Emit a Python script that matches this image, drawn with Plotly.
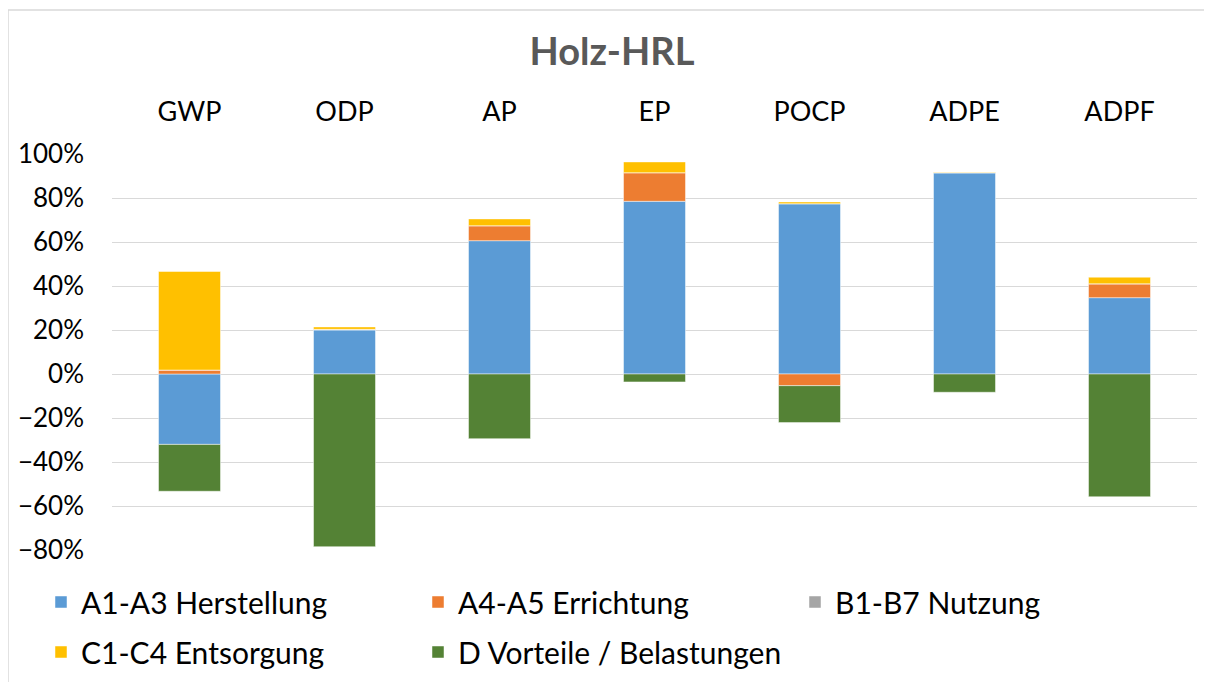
import plotly.graph_objects as go

categories = ['GWP', 'ODP', 'AP', 'EP', 'POCP', 'ADPE', 'ADPF']

# shares per life-cycle module (fraction of total)
a1_a3 = [-0.320, 0.200, 0.606, 0.785, 0.774, 0.915, 0.347]
a4_a5 = [0.018, 0.003, 0.068, 0.130, -0.053, 0.000, 0.063]
b1_b7 = [0.0, 0.0, 0.0, 0.0, 0.0, 0.0, 0.0]
c1_c4 = [0.448, 0.011, 0.031, 0.049, 0.008, 0.002, 0.030]
d_mod = [-0.213, -0.785, -0.294, -0.036, -0.168, -0.083, -0.558]

series = [
    ('A1-A3 Herstellung', a1_a3, '#5b9bd5', 'legend'),
    ('A4-A5 Errichtung', a4_a5, '#ed7d31', 'legend'),
    ('B1-B7 Nutzung', b1_b7, '#a5a5a5', 'legend'),
    ('C1-C4 Entsorgung', c1_c4, '#ffc000', 'legend2'),
    ('D Vorteile / Belastungen', d_mod, '#548235', 'legend2'),
]

fig = go.Figure()
for name, vals, col, leg in series:
    fig.add_trace(go.Bar(
        x=categories, y=vals, name=name, legend=leg,
        marker=dict(color=col, line=dict(color='rgba(255,255,255,0.6)', width=0.8)),
        width=0.4,
    ))

# page body adds an 8px offset, so the plot area is placed in figure pixels
L, T, W, H = 104, 146, 1085, 396
font = 'Lato, Open Sans, sans-serif'
legend_style = dict(orientation='h', xanchor='left', yanchor='middle',
                    entrywidth=332, entrywidthmode='pixels', traceorder='normal',
                    font=dict(size=30), itemwidth=30, bgcolor='rgba(0,0,0,0)')
fig.update_layout(
    barmode='relative',
    width=1212, height=682,
    margin=dict(l=L, r=1212 - L - W, t=T, b=682 - T - H, autoexpand=False),
    paper_bgcolor='white', plot_bgcolor='white',
    font=dict(family=font, size=26, color='#000000'),
    title=dict(text='<b>Holz-HRL</b>', x=604 / 1212, xanchor='center',
               y=1 - 44 / 682, yanchor='middle',
               font=dict(size=38, color='#595959', family=font)),
    xaxis=dict(side='top', showgrid=False, showline=False, ticks='',
               ticklabelstandoff=27, tickfont=dict(size=27)),
    yaxis=dict(range=[-0.8, 1.0], dtick=0.2, tickformat='.0%', showgrid=True,
               gridcolor='#d9d9d9', gridwidth=1, zeroline=True, zerolinecolor='#d9d9d9',
               zerolinewidth=1, ticks='', ticklabelstandoff=27, tickfont=dict(size=26)),
    legend=dict(legend_style, x=(33 - L) / W, y=-52 / H),
    legend2=dict(legend_style, x=(33 - L) / W, y=-102 / H),
    showlegend=True,
)

fig.add_shape(type='rect', xref='paper', yref='paper',
              x0=(0 - L) / W, x1=(1240 - L) / W,
              y0=-(700 - T - H) / H, y1=(T + H - 2) / H,
              line=dict(color='#d9d9d9', width=1.5), layer='below')

fig.write_html('out.html')
